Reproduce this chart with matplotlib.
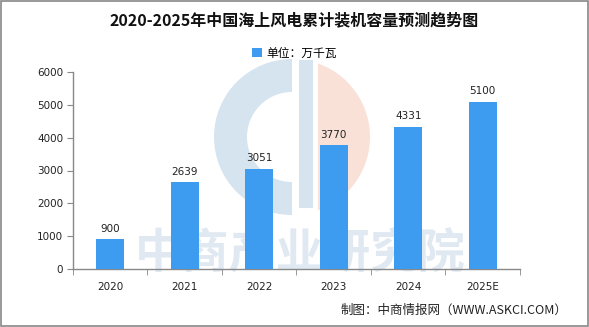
import matplotlib
matplotlib.use("Agg")
import matplotlib.pyplot as plt
import numpy as np
from matplotlib.patches import Rectangle, Wedge, Polygon

plt.rcParams['font.family'] = ['Noto Sans CJK SC', 'DejaVu Sans']

years = ["2020", "2021", "2022", "2023", "2024", "2025E"]
capacity = [900, 2639, 3051, 3770, 4331, 5100]
title = "2020-2025年中国海上风电累计装机容量预测趋势图"
legend_label = "单位：万千瓦"
source = "制图：中商情报网（WWW.ASKCI.COM）"

W, H = 589, 327
fig = plt.figure(figsize=(W / 100, H / 100), dpi=100)
fig.patch.set_facecolor("white")

# background layer in pixel coordinates (watermark logo)
bg = fig.add_axes([0, 0, 1, 1], zorder=0)
bg.set_xlim(0, W)
bg.set_ylim(H, 0)
bg.axis("off")
cx, cy, r = 292, 137, 78
bg.add_patch(Wedge((cx, cy), r, 90, 270, width=33, facecolor="#d6e4ef", edgecolor="none"))
bg.add_patch(Rectangle((299, cy - r + 1), 14, 148, facecolor="#d6e4ef", edgecolor="none"))
xcut = 318
ang = np.arccos((xcut - cx) / r)
t = np.linspace(-ang, ang, 80)
pts = np.column_stack([cx + r * np.cos(t), cy + r * np.sin(t)])
bg.add_patch(Polygon(pts, closed=True, facecolor="#f9e1d8", edgecolor="none"))
bg.text(300, 253, "中商产业研究院", ha="center", va="center", fontsize=34,
        color="#e0e9f2", fontweight="bold")
# outer frame
bg.add_patch(Rectangle((1, 1), W - 2.5, H - 2.5, fill=False, edgecolor="#888888", linewidth=1.2))

ax = fig.add_axes([73 / W, 1 - 269 / H, (520 - 73) / W, (269 - 72) / H], zorder=2)
x = list(range(len(years)))
bars = ax.bar(x, capacity, width=0.38, color="#3d9bf0", zorder=3, label=legend_label)
for xi, v in zip(x, capacity):
    ax.text(xi, v + 170, str(v), ha="center", va="bottom", fontsize=7.5, color="#222222",
            family=["DejaVu Sans"])

ax.set_xlim(-0.5, len(years) - 0.5)
ax.set_ylim(0, 6000)
ax.set_yticks([0, 1000, 2000, 3000, 4000, 5000, 6000])
ax.set_xticks(x)
ax.set_xticklabels(years)
ax.set_xticks([i - 0.5 for i in range(len(years) + 1)], minor=True)
ax.tick_params(axis="x", which="major", length=0, pad=9, labelsize=7.5, colors="#222222")
ax.tick_params(axis="x", which="minor", length=4, direction="out", color="#888888")
ax.tick_params(axis="y", length=4, direction="out", color="#888888", labelsize=7.5,
               labelcolor="#222222", pad=3)
for lbl in ax.get_xticklabels() + ax.get_yticklabels():
    lbl.set_family(["DejaVu Sans"])
for s in ["top", "right"]:
    ax.spines[s].set_visible(False)
for s in ["left", "bottom"]:
    ax.spines[s].set_color("#888888")
    ax.spines[s].set_linewidth(1)
ax.patch.set_alpha(0)

fig.text(0.5, 1 - 20 / H, title, ha="center", va="center", fontsize=11.5, fontweight="bold",
         color="#111111")
leg = fig.legend(handles=[bars], labels=[legend_label], loc="center",
                 bbox_to_anchor=(0.5, 1 - 53 / H), frameon=False, fontsize=8.5,
                 handlelength=0.8, handleheight=0.8, handletextpad=0.4)
fig.text(567 / W, 1 - 310 / H, source, ha="right", va="center", fontsize=9, color="#222222")

fig.savefig("out.png", dpi=100)
